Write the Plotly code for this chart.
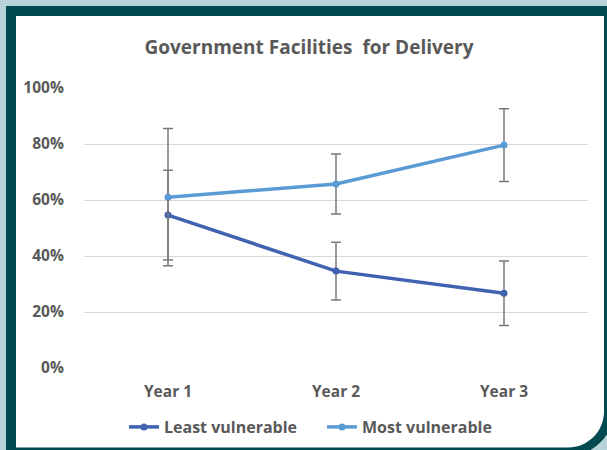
import plotly.graph_objects as go

categories = ["Year 1", "Year 2", "Year 3"]
least_vals = [0.546, 0.346, 0.267]
least_err = [0.16, 0.103, 0.115]
most_vals = [0.61, 0.657, 0.796]
most_err = [0.245, 0.107, 0.13]

W, H = 607, 450
L, R, T, B = 84, 588, 88, 368
TXT = "#595959"
FONT = "Open Sans"


def px(x):
    return (x - L) / (R - L)


def py(y):
    return (B - y) / (B - T)


def rounded_path(x0, y0, x1, y1, r):
    k = 0.5523 * r
    pts = [
        f"M{px(x0)},{py(y0)}",
        f"L{px(x1)},{py(y0)}",
        f"L{px(x1)},{py(y1 - r)}",
        f"C{px(x1)},{py(y1 - r + k)} {px(x1 - r + k)},{py(y1)} {px(x1 - r)},{py(y1)}",
        f"L{px(x0)},{py(y1)}",
        "Z",
    ]
    return " ".join(pts)


fig = go.Figure()
fig.add_trace(go.Scatter(
    x=categories, y=least_vals, name="<b>Least vulnerable</b>",
    mode="lines+markers",
    line=dict(color="#4062b0", width=3.5),
    marker=dict(size=7, color="#4062b0"),
    error_y=dict(type="data", array=least_err, visible=True,
                 color="#7a7a7a", thickness=1.5, width=5),
))
fig.add_trace(go.Scatter(
    x=categories, y=most_vals, name="<b>Most vulnerable</b>",
    mode="lines+markers",
    line=dict(color="#5b9bd5", width=3.5),
    marker=dict(size=7, color="#5b9bd5"),
    error_y=dict(type="data", array=most_err, visible=True,
                 color="#7a7a7a", thickness=1.5, width=5),
))

shapes = [
    dict(type="path", xref="paper", yref="paper", layer="below",
         path=rounded_path(6, 6, 615, 457, 50),
         fillcolor="#004a50", line=dict(width=0)),
    dict(type="path", xref="paper", yref="paper", layer="below",
         path=rounded_path(16, 16, 604, 447.5, 36),
         fillcolor="#ffffff", line=dict(width=0)),
]

fig.update_layout(
    width=W, height=H,
    margin=dict(l=L, r=W - R, t=T, b=H - B, autoexpand=False),
    paper_bgcolor="#b7d3d8",
    plot_bgcolor="rgba(0,0,0,0)",
    shapes=shapes,
    font=dict(family=FONT, color=TXT),
    title=dict(
        text="<b>Government Facilities  for Delivery</b>",
        x=309 / W, xref="container", xanchor="center",
        y=1 - 47 / H, yref="container", yanchor="middle",
        font=dict(size=19, color=TXT, family=FONT),
    ),
    xaxis=dict(
        type="category", range=[-0.5, 2.5],
        showgrid=False, zeroline=False, showline=False,
        ticks="outside", ticklen=9, tickcolor="rgba(0,0,0,0)",
        tickfont=dict(size=15.5, color=TXT, family=FONT),
        tickprefix="<b>", ticksuffix="</b>",
        fixedrange=True,
    ),
    yaxis=dict(
        range=[0, 1], dtick=0.2, tickformat=".0%",
        showgrid=True, gridcolor="#d9d9d9", gridwidth=1,
        zeroline=False, showline=False,
        ticks="outside", ticklen=16, tickcolor="rgba(0,0,0,0)",
        tickfont=dict(size=15.5, color=TXT, family=FONT),
        tickprefix="<b>", ticksuffix="</b>",
        fixedrange=True,
    ),
    legend=dict(
        orientation="h", x=px(124), xanchor="left",
        y=py(427), yanchor="middle",
        font=dict(size=16, color=TXT, family=FONT),
        bgcolor="rgba(0,0,0,0)",
        itemwidth=30,
        entrywidth=153,
    ),
    showlegend=True,
)

fig.write_html("out.html", config={"displayModeBar": False},
               post_script="document.body.style.margin='0';")
